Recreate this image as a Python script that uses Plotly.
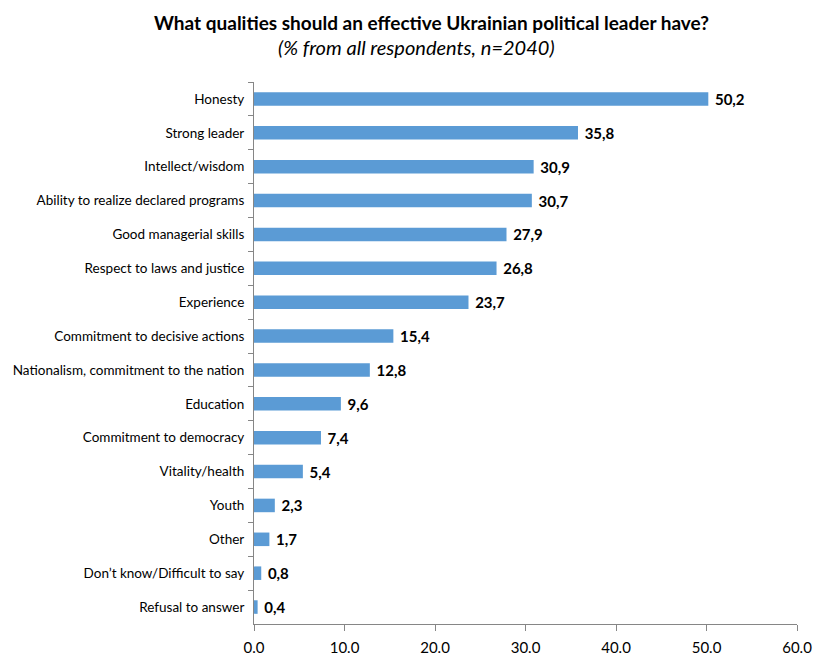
import plotly.graph_objects as go

categories = [
    "Honesty", "Strong leader", "Intellect/wisdom", "Ability to realize declared programs",
    "Good managerial skills", "Respect to laws and justice", "Experience",
    "Commitment to decisive actions", "Nationalism, commitment to the nation", "Education",
    "Commitment to democracy", "Vitality/health", "Youth", "Other",
    "Don’t know/Difficult to say", "Refusal to answer",
]
values = [50.2, 35.8, 30.9, 30.7, 27.9, 26.8, 23.7, 15.4, 12.8, 9.6, 7.4, 5.4, 2.3, 1.7, 0.8, 0.4]
x_ticks = [0, 10, 20, 30, 40, 50, 60]
x_tick_labels = ["0.0", "10.0", "20.0", "30.0", "40.0", "50.0", "60.0"]

labels = [" " + f"{v:.1f}".replace(".", ",") for v in values]

font_family = "Lato, Carlito, 'Open Sans', sans-serif"

fig = go.Figure(go.Bar(
    x=values,
    y=categories,
    orientation="h",
    marker=dict(color="#5B9BD5", line=dict(width=0)),
    text=labels,
    textposition="outside",
    constraintext="none",
    textfont=dict(family=font_family, size=15, color="black", weight="bold"),
    cliponaxis=False,
    width=0.4,
))

L, R, T, B = 254, 20, 82, 31
W, H = 817, 655
pw = W - L - R

fig.update_layout(
    width=W, height=H,
    margin=dict(l=L, r=R, t=T, b=B),
    paper_bgcolor="white", plot_bgcolor="white",
    showlegend=False,
    font=dict(family=font_family, color="black"),
)
fig.add_annotation(
    text="<b>What qualities should an effective Ukrainian political leader have?</b>",
    x=(431 - L) / pw, xref="paper", xanchor="center",
    y=1, yref="paper", yshift=60, yanchor="middle", showarrow=False,
    font=dict(family=font_family, size=19, color="black"),
)
fig.add_annotation(
    text="<i>(% from all respondents, n=2040)</i>",
    x=(416 - L) / pw, xref="paper", xanchor="center",
    y=1, yref="paper", yshift=35, yanchor="middle", showarrow=False,
    font=dict(family=font_family, size=20, color="black"),
)

fig.update_xaxes(
    range=[0, 60], tickvals=x_ticks, ticktext=x_tick_labels,
    showgrid=False, zeroline=False, automargin=False,
    showline=True, linecolor="#868686", linewidth=1,
    ticks="outside", ticklen=6, tickcolor="#868686",
    tickfont=dict(family=font_family, size=15, color="black"),
    ticklabelstandoff=4,
)
fig.update_yaxes(
    autorange="reversed", showgrid=False, automargin=False,
    showline=True, linecolor="#868686", linewidth=1,
    ticks="outside", tickson="boundaries", ticklen=5, tickcolor="#868686",
    tickfont=dict(family=font_family, size=13.5, color="black"),
    ticklabelstandoff=6,
)

fig.write_html("out.html")
